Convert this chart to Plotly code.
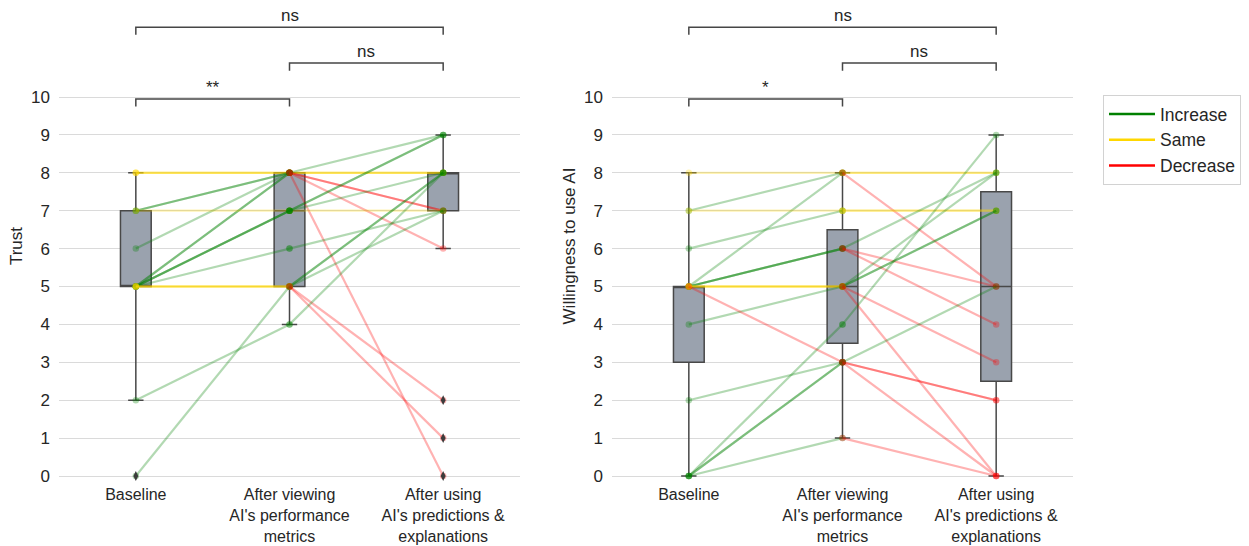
import numpy as np
import plotly.graph_objects as go

# ---------------- data ----------------
stage_labels = [
    "Baseline",
    "After viewing<br>AI's performance<br>metrics",
    "After using<br>AI's predictions &<br>explanations",
]

# Trust ratings (one entry per participant, same order in every list)
trust_baseline = [8, 8, 8, 7, 7, 6, 5, 5, 7, 5, 5, 5, 5, 5, 5, 5, 5, 0, 2]
trust_viewing = [8, 8, 8, 8, 8, 8, 8, 8, 7, 7, 7, 7, 6, 5, 5, 5, 5, 5, 4]
trust_using = [8, 8, 8, 9, 7, 7, 6, 0, 7, 9, 9, 8, 7, 8, 8, 7, 2, 1, 8]

# Willingness to use AI (one entry per participant)
will_baseline = [8, 7, 5, 7, 6, 5, 5, 5, 5, 5, 5, 5, 4, 0, 5, 2, 0, 0, 0]
will_viewing = [8, 8, 8, 7, 7, 6, 6, 6, 5, 5, 5, 5, 5, 4, 3, 3, 3, 3, 1]
will_using = [8, 8, 5, 7, 7, 8, 5, 4, 8, 7, 7, 3, 0, 9, 2, 5, 2, 0, 0]

# significance tests: (stage a, stage b, label)
trust_tests = [(0, 1, "**"), (1, 2, "ns"), (0, 2, "ns")]
will_tests = [(0, 1, "*"), (1, 2, "ns"), (0, 2, "ns")]

y_ticks = list(range(0, 11))
legend_names = ["Increase", "Same", "Decrease"]

# ---------------- style ----------------
W, H = 1249, 546
FONT = "Arial, Liberation Sans, Helvetica, sans-serif"
TXT = "#262626"
GREEN, GOLD, RED = (0, 128, 0), (255, 215, 0), (255, 0, 0)
SEG_ALPHA = 0.3
BOX_FILL = "rgb(154,162,174)"
BOX_EDGE = "rgb(72,72,72)"
BRACKET = "rgb(70,70,70)"


def rgba(c, a):
    return f"rgba({c[0]},{c[1]},{c[2]},{a})"


px_per_unit = (476 - 97) / 10.0
plot_top_px, plot_bot_px = 10, 482
y_min = -(plot_bot_px - 476) / px_per_unit
y_max = y_min + (plot_bot_px - plot_top_px) / px_per_unit

panels = [
    dict(vals=[trust_baseline, trust_viewing, trust_using], title="Trust",
         tests=trust_tests, xa="x", ya="y", dom=(59, 520)),
    dict(vals=[will_baseline, will_viewing, will_using], title="Willingness to use AI",
         tests=will_tests, xa="x2", ya="y2", dom=(612, 1073)),
]

fig = go.Figure()
annotations = []

for pnl in panels:
    xa, ya = pnl["xa"], pnl["ya"]
    vals = [np.array(v) for v in pnl["vals"]]
    fliers_all = []
    # boxes
    for j, arr in enumerate(vals):
        q1, med, q3 = np.percentile(arr, [25, 50, 75])
        iqr = q3 - q1
        lo = arr[arr >= q1 - 1.5 * iqr].min()
        hi = arr[arr <= q3 + 1.5 * iqr].max()
        for f in arr[(arr < lo) | (arr > hi)]:
            fliers_all.append((stage_labels[j], f))
        fig.add_trace(go.Box(
            x=[stage_labels[j]], q1=[q1], median=[med], q3=[q3],
            lowerfence=[lo], upperfence=[hi], width=0.2, whiskerwidth=0.5,
            fillcolor=BOX_FILL, line=dict(color=BOX_EDGE, width=1.5),
            boxpoints=False, showlegend=False, hoverinfo="skip",
            xaxis=xa, yaxis=ya))
    # participant segments
    n = len(vals[0])
    for p in range(n):
        for s in range(2):
            a, b = vals[s][p], vals[s + 1][p]
            c = GREEN if b > a else (RED if b < a else GOLD)
            fig.add_trace(go.Scatter(
                x=[stage_labels[s], stage_labels[s + 1]], y=[a, b],
                mode="lines+markers",
                line=dict(color=rgba(c, SEG_ALPHA), width=2.2),
                marker=dict(size=6.5, color=rgba(c, SEG_ALPHA)),
                showlegend=False, hoverinfo="skip", xaxis=xa, yaxis=ya))
    # outliers
    if fliers_all:
        fig.add_trace(go.Scatter(
            x=[f[0] for f in fliers_all], y=[f[1] for f in fliers_all],
            mode="markers",
            marker=dict(symbol="diamond-tall", size=7, color="rgb(60,60,60)"),
            showlegend=False, hoverinfo="skip", xaxis=xa, yaxis=ya))
    # significance brackets
    for lvl, (i, j, lab) in enumerate(pnl["tests"]):
        yb = 9.95 + lvl * 0.945
        drop = 0.2
        fig.add_trace(go.Scatter(
            x=[stage_labels[i], stage_labels[i], stage_labels[j], stage_labels[j]],
            y=[yb - drop, yb, yb, yb - drop], mode="lines",
            line=dict(color=BRACKET, width=1.5),
            showlegend=False, hoverinfo="skip", xaxis=xa, yaxis=ya))
        annotations.append(dict(
            x=(i + j) / 2, y=yb, xref=xa, yref=ya, text=lab, showarrow=False,
            yanchor="bottom", yshift=0, font=dict(size=17, color=TXT, family=FONT)))

# legend entries
for name, c in zip(legend_names, [GREEN, GOLD, RED]):
    fig.add_trace(go.Scatter(
        x=[None], y=[None], mode="lines", name=name,
        line=dict(color=rgba(c, 1), width=2.5), xaxis="x", yaxis="y"))

common_x = dict(type="category", categoryorder="array", categoryarray=stage_labels,
                range=[-0.5, 2.5], showgrid=False, showline=False, zeroline=False,
                ticks="", ticklabelstandoff=1, automargin=False,
                tickfont=dict(size=16, color=TXT, family=FONT))
common_y = dict(range=[y_min, y_max], tickvals=y_ticks, showgrid=True,
                gridcolor="rgb(218,218,218)", gridwidth=1, zeroline=False,
                showline=False, ticks="", ticklabelstandoff=8, automargin=False,
                tickfont=dict(size=17, color=TXT, family=FONT),
                domain=[1 - plot_bot_px / H, 1 - plot_top_px / H])

layout_axes = {}
for k, pnl in enumerate(panels):
    sfx = "" if k == 0 else str(k + 1)
    layout_axes["xaxis" + sfx] = dict(common_x, domain=[pnl["dom"][0] / W, pnl["dom"][1] / W],
                                      anchor="y" + sfx)
    layout_axes["yaxis" + sfx] = dict(common_y, anchor="x" + sfx,
                                      title=dict(text=pnl["title"], standoff=4,
                                                 font=dict(size=17, color=TXT, family=FONT)))

fig.update_layout(
    width=W, height=H, margin=dict(l=0, r=0, t=0, b=0, autoexpand=False),
    paper_bgcolor="white", plot_bgcolor="white",
    font=dict(family=FONT, color=TXT, size=17),
    legend=dict(x=1103 / W, y=1 - 95 / H, xanchor="left", yanchor="top",
                itemwidth=46,
                bordercolor="rgb(210,210,210)", borderwidth=1, bgcolor="white",
                font=dict(size=17.5, color=TXT, family=FONT)),
    annotations=annotations,
    **layout_axes,
)

fig.write_html(
    "out.html",
    config={"displayModeBar": False},
    post_script="document.body.style.margin='0';document.body.style.overflow='hidden';",
)
